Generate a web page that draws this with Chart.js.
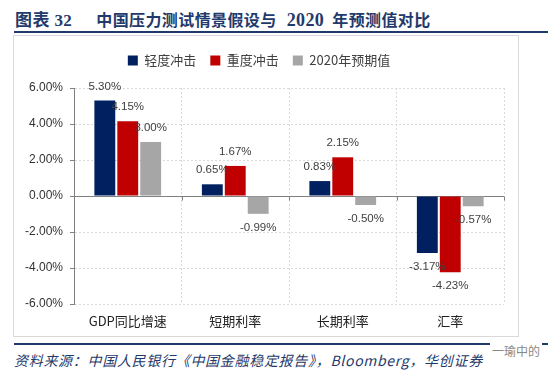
<!DOCTYPE html>
<html>
<head>
<meta charset="utf-8">
<script src="https://cdn.jsdelivr.net/npm/chart.js@4"></script>
<style>
body { margin: 0; width: 555px; height: 376px; background: #fff; position: relative; overflow: hidden; font-family: "Noto Sans CJK SC", sans-serif; }
#title { position: absolute; left: 15px; top: 6px; font: bold 16px "Liberation Serif", "Noto Sans CJK SC", serif; color: #1F3A6B; white-space: nowrap; letter-spacing: 0.4px; }
#title .num { margin-right: 24px; font-size: 17px; }
#title .yr { margin: 0 8px 0 10px; font-size: 18px; }
.rule { position: absolute; left: 14px; width: 534px; height: 2px; background: #1F3A6B; }
#box { position: absolute; left: 13px; top: 35px; width: 506px; height: 302px; border: 1px solid #D9D9D9; box-sizing: border-box; }
#wrap { position: absolute; left: 14px; top: 36px; width: 504px; height: 300px; }
#source { position: absolute; left: 14px; top: 350px; font: italic 14px "Noto Sans CJK SC", serif; letter-spacing: 0.7px; color: #1F3A6B; white-space: nowrap; }
#mark { position: absolute; left: 490px; top: 342px; font: 12px "Noto Sans CJK SC", sans-serif; color: #888; background: #fff; padding: 0 2px; }
</style>
</head>
<body>
<div id="title"><span class="num">图表 32</span>中国压力测试情景假设与<span class="yr">2020</span>年预测值对比</div>
<div class="rule" style="top:31px"></div>
<div id="box"></div>
<div id="wrap"><canvas id="chart"></canvas></div>
<div class="rule" style="top:343px"></div>
<div id="source">资料来源：中国人民银行《中国金融稳定报告》，Bloomberg，华创证券</div>
<div id="mark">一瑜中的</div>
<script>
const categories = ['GDP同比增速', '短期利率', '长期利率', '汇率'];
const mildShock = [5.30, 0.65, 0.83, -3.17];
const severeShock = [4.15, 1.67, 2.15, -4.23];
const forecast2020 = [3.00, -0.99, -0.50, -0.57];
const seriesNames = ['轻度冲击', '重度冲击', '2020年预期值'];

const navy = '#002060', red = '#C00000', gray = '#A6A6A6';
const axisColor = '#808080', gridColor = '#D9D9D9', textColor = '#404040';

// value labels just beyond the end of every bar
const barLabels = {
	id: 'barLabels',
	afterDatasetsDraw(chart) {
		const ctx = chart.ctx;
		ctx.save();
		ctx.font = '11.5px "Liberation Sans", sans-serif';
		ctx.fillStyle = textColor;
		ctx.textAlign = 'center';
		ctx.textBaseline = 'middle';
		chart.data.datasets.forEach((ds, i) => {
			chart.getDatasetMeta(i).data.forEach((bar, j) => {
				const v = ds.data[j];
				const y = v >= 0 ? bar.y - 14 : bar.y + 14;
				ctx.fillText(v.toFixed(2) + '%', bar.x, y);
			});
		});
		ctx.restore();
	}
};

// short tick marks hanging below the zero line at category edges
const zeroTicks = {
	id: 'zeroTicks',
	afterDraw(chart) {
		const { ctx, scales: { x, y } } = chart;
		const y0 = Math.round(y.getPixelForValue(0)) + 0.5;
		const step = x.width / categories.length;
		ctx.save();
		ctx.strokeStyle = axisColor;
		ctx.lineWidth = 1;
		ctx.beginPath();
		for (let i = 1; i <= categories.length; i++) {
			const px = Math.round(x.left + i * step) + 0.5;
			ctx.moveTo(px, y0);
			ctx.lineTo(px, y0 + 4);
		}
		ctx.stroke();
		ctx.restore();
	}
};

const legendGap = {
	id: 'legendGap',
	beforeInit(chart) {
		const fit = chart.legend.fit;
		chart.legend.fit = function () {
			fit.bind(chart.legend)();
			this.height = 48;
		};
	}
};

new Chart(document.getElementById('chart'), {
	type: 'bar',
	data: {
		labels: categories,
		datasets: [
			{ label: seriesNames[0], data: mildShock, backgroundColor: navy },
			{ label: seriesNames[1], data: severeShock, backgroundColor: red },
			{ label: seriesNames[2], data: forecast2020, backgroundColor: gray }
		]
	},
	options: {
		responsive: true,
		maintainAspectRatio: false,
		animation: false,
		datasets: {
			bar: { barPercentage: 0.91, categoryPercentage: 0.64 }
		},
		layout: { padding: { top: 4, right: 14, left: 0, bottom: 0 } },
		plugins: {
			legend: {
				position: 'top',
				labels: {
					boxWidth: 10,
					boxHeight: 10,
					padding: 14,
					color: textColor,
					font: { size: 13, family: '"Noto Sans CJK SC", sans-serif' }
				}
			},
			tooltip: { enabled: false }
		},
		scales: {
			x: {
				grid: { color: gridColor, drawTicks: false, offset: true },
				border: { display: false, dash: [2, 2] },
				ticks: { color: '#222', padding: 9, font: { size: 13, family: '"Noto Sans CJK SC", sans-serif' } },
				afterFit(scale) { scale.height = 32; }
			},
			y: {
				min: -6,
				max: 6,
				grid: {
					color: c => c.tick && c.tick.value === 0 ? axisColor : gridColor,
					tickColor: axisColor,
					tickLength: 4,
					tickBorderDash: []
				},
				border: {
					display: true,
					color: axisColor,
					dash: c => c.tick && c.tick.value === 0 ? [] : [2, 2]
				},
				ticks: {
					stepSize: 2,
					padding: 7,
					color: '#333',
					font: { size: 12, family: '"Liberation Sans", sans-serif' },
					callback: v => v.toFixed(2) + '%'
				},
				afterFit(scale) { scale.width = 60; }
			}
		}
	},
	plugins: [barLabels, zeroTicks, legendGap]
});
</script>
</body>
</html>
